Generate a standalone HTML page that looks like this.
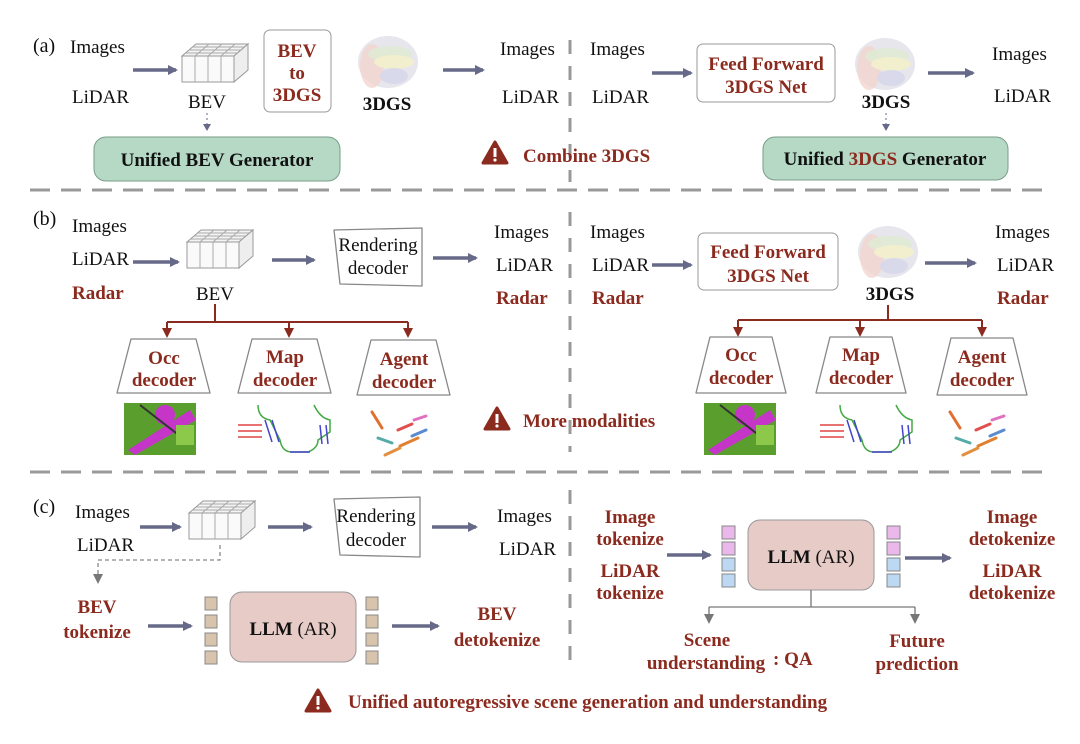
<!DOCTYPE html>
<html><head><meta charset="utf-8"><style>
html,body{margin:0;padding:0;background:#fff;}
svg{display:block;}
text{font-family:"Liberation Serif",serif;font-size:19px;fill:#111;}
.r{fill:#8b2a1e;font-weight:bold;}
.b{font-weight:bold;}
.m{text-anchor:middle;}
</style></head><body>
<svg width="1080" height="744" viewBox="0 0 1080 744" xmlns="http://www.w3.org/2000/svg">
<defs>
<marker id="ah" markerWidth="10" markerHeight="10" refX="8" refY="5" orient="auto" markerUnits="userSpaceOnUse"><path d="M0,0 L10,5 L0,10 z" fill="#666a88"/></marker>
<marker id="ahr" markerWidth="10" markerHeight="10" refX="8" refY="5" orient="auto" markerUnits="userSpaceOnUse"><path d="M0,0 L10,5 L0,10 z" fill="#8b2a1e"/></marker>
<marker id="ahg" markerWidth="10" markerHeight="10" refX="8" refY="5" orient="auto" markerUnits="userSpaceOnUse"><path d="M0,0 L10,5 L0,10 z" fill="#777"/></marker>
<g id="grid">
<path d="M0,12 L52,12 L52,38 L0,38 z" fill="#fafafa" stroke="#999"/>
<path d="M0,12 L14,0 L66,0 L52,12 z" fill="#f4f4f4" stroke="#999"/>
<path d="M52,12 L66,0 L66,26 L52,38 z" fill="#eee" stroke="#999"/>
<path d="M13,12 L13,38 M26,12 L26,38 M39,12 L39,38 M3.5,9 L55.5,9 M7,6 L59,6 M10.5,3 L62.5,3 M13,12 L27,0 M26,12 L40,0 M39,12 L53,0" stroke="#aaa" fill="none"/>
</g>
<g id="blob">
<ellipse cx="30" cy="28" rx="30" ry="26" fill="#e6e6ec"/>
<ellipse cx="14" cy="32" rx="12" ry="22" fill="#f2d6d0" opacity="0.8"/>
<ellipse cx="32" cy="20" rx="22" ry="8" fill="#dfead4" opacity="0.9"/>
<ellipse cx="36" cy="28" rx="20" ry="7" fill="#f3efcc" opacity="0.9"/>
<ellipse cx="36" cy="42" rx="14" ry="8" fill="#d4d7ec" opacity="0.8"/>
</g>
<g id="warn"><path d="M0,-11 L12,10 L-12,10 z" fill="#8b2a1e" stroke="#8b2a1e" stroke-width="3" stroke-linejoin="round"/><rect x="-1.5" y="-5" width="3" height="9" fill="#fff"/><circle cx="0" cy="7" r="1.6" fill="#fff"/></g>
</defs>

<g stroke="#999" stroke-width="3" stroke-dasharray="20,11" fill="none">
<line x1="30" y1="190" x2="1052" y2="190"/>
<line x1="30" y1="472" x2="1052" y2="472"/>
</g>
<g stroke="#999" stroke-width="3" stroke-dasharray="14,12" fill="none">
<line x1="570" y1="40" x2="570" y2="182"/>
<line x1="570" y1="212" x2="570" y2="452"/>
<line x1="570" y1="490" x2="570" y2="668"/>
</g>

<!-- (a) -->
<text x="33" y="52" style="font-size:20px">(a)</text>
<text x="70" y="53">Images</text>
<text x="72" y="103">LiDAR</text>
<line x1="133" y1="70" x2="176" y2="70" stroke="#666a88" stroke-width="3.5" marker-end="url(#ah)"/>
<use href="#grid" x="182" y="44"/>
<text x="207" y="108" class="m">BEV</text>
<line x1="207" y1="113" x2="207" y2="127" stroke="#666a88" stroke-dasharray="2,3"/><path d="M203,124 L211,124 L207,131 z" fill="#666a88"/>
<rect x="94" y="137" width="246" height="44" rx="12" fill="#b6d9c6" stroke="#7a9d8a"/>
<text x="217" y="166" class="m b">Unified BEV Generator</text>
<rect x="264" y="30" width="67" height="82" rx="6" fill="#fff" stroke="#999"/>
<text x="297" y="57" class="m r">BEV</text><text x="297" y="79" class="m r">to</text><text x="297" y="101" class="m r">3DGS</text>
<use href="#blob" x="358" y="34"/>
<text x="387" y="110" class="m b">3DGS</text>
<line x1="443" y1="70" x2="483" y2="70" stroke="#666a88" stroke-width="3.5" marker-end="url(#ah)"/>
<text x="500" y="55">Images</text>
<text x="502" y="103">LiDAR</text>
<use href="#warn" x="495" y="153"/>
<text x="523" y="162" class="r">Combine 3DGS</text>

<text x="590" y="55">Images</text>
<text x="592" y="103">LiDAR</text>
<line x1="652" y1="73" x2="691" y2="73" stroke="#666a88" stroke-width="3.5" marker-end="url(#ah)"/>
<rect x="697" y="44" width="138" height="58" rx="6" fill="#fff" stroke="#999"/>
<text x="766" y="70" class="m r">Feed Forward</text><text x="766" y="93" class="m r">3DGS Net</text>
<use href="#blob" x="855" y="36"/>
<text x="886" y="108" class="m b">3DGS</text>
<line x1="886" y1="113" x2="886" y2="127" stroke="#666a88" stroke-dasharray="2,3"/><path d="M882,124 L890,124 L886,131 z" fill="#666a88"/>
<line x1="928" y1="73" x2="973" y2="73" stroke="#666a88" stroke-width="3.5" marker-end="url(#ah)"/>
<text x="992" y="60">Images</text>
<text x="994" y="102">LiDAR</text>
<rect x="763" y="137" width="245" height="43" rx="12" fill="#b6d9c6" stroke="#7a9d8a"/>
<text x="885" y="165" class="m b">Unified <tspan fill="#8b2a1e">3DGS</tspan> Generator</text>

<!-- (b) -->
<text x="33" y="225" style="font-size:20px">(b)</text>
<text x="72" y="232">Images</text>
<text x="72" y="265">LiDAR</text>
<text x="72" y="299" class="r">Radar</text>
<line x1="133" y1="262" x2="178" y2="262" stroke="#666a88" stroke-width="3.5" marker-end="url(#ah)"/>
<use href="#grid" x="187" y="230"/>
<text x="215" y="300" class="m">BEV</text>
<line x1="272" y1="260" x2="314" y2="260" stroke="#666a88" stroke-width="3.5" marker-end="url(#ah)"/>
<path d="M334,230 L422,228 L422,286 L340,284 z" fill="#fff" stroke="#888" stroke-width="1.3" stroke-linejoin="round"/>
<text x="378" y="251" class="m">Rendering</text><text x="378" y="274" class="m">decoder</text>
<line x1="433" y1="258" x2="476" y2="258" stroke="#666a88" stroke-width="3.5" marker-end="url(#ah)"/>
<text x="494" y="238">Images</text>
<text x="496" y="271">LiDAR</text>
<text x="496" y="304" class="r">Radar</text>
<g stroke="#8b2a1e" stroke-width="2" fill="none">
<line x1="215" y1="304" x2="215" y2="322"/>
<line x1="167" y1="322" x2="408" y2="322"/>
<line x1="167" y1="322" x2="167" y2="336" marker-end="url(#ahr)"/>
<line x1="289" y1="322" x2="289" y2="336" marker-end="url(#ahr)"/>
<line x1="408" y1="322" x2="408" y2="336" marker-end="url(#ahr)"/>
</g>
<g fill="#fff" stroke="#888" stroke-width="1.3" stroke-linejoin="round">
<path d="M131,339 L196,339 L210,393 L117,393 z"/>
<path d="M252,339 L317,339 L331,393 L238,393 z"/>
<path d="M371,340 L436,340 L450,395 L357,395 z"/>
</g>
<text x="164" y="364" class="m r">Occ</text><text x="164" y="386" class="m r">decoder</text>
<text x="285" y="363" class="m r">Map</text><text x="285" y="386" class="m r">decoder</text>
<text x="404" y="365" class="m r">Agent</text><text x="404" y="388" class="m r">decoder</text>
<g id="occ">
<rect x="124" y="403" width="72" height="52" fill="#5a9e2e"/>
<path d="M128,450 L190,410 L196,420 L135,455 z" fill="#c535c8"/>
<circle cx="165" cy="415" r="10" fill="#c535c8"/>
<path d="M140,405 L185,440" stroke="#333" stroke-width="2"/>
<rect x="176" y="425" width="18" height="20" fill="#8cc84a"/>
</g>
<g id="map" fill="none" stroke-width="1.5">
<path d="M258,405 Q258,418 270,420 L280,440 Q282,452 292,452 L308,452 Q318,448 318,440 L330,432 L330,420 Q320,418 314,405" stroke="#4a4"/>
<path d="M265,420 L272,442 M272,420 L279,442 M290,452 L310,452 M320,425 L322,444 M326,425 L328,444" stroke="#44c"/>
<path d="M238,425 L262,425 M238,431 L262,431 M238,437 L262,437" stroke="#d44"/>
</g>
<g stroke-width="3" stroke-linecap="round">
<path d="M372,412 L382,428" stroke="#e07030"/><path d="M378,438 L392,443" stroke="#5aa"/>
<path d="M398,430 L412,424" stroke="#e05050"/><path d="M414,420 L426,416" stroke="#e070c0"/>
<path d="M400,446 L418,438" stroke="#e08030"/><path d="M412,436 L426,430" stroke="#5a8ad0"/>
<path d="M385,455 L400,448" stroke="#e09040"/>
</g>
<use href="#warn" x="497" y="419"/>
<text x="523" y="427" class="r">More modalities</text>

<text x="590" y="238">Images</text>
<text x="592" y="271">LiDAR</text>
<text x="592" y="304" class="r">Radar</text>
<line x1="652" y1="265" x2="691" y2="265" stroke="#666a88" stroke-width="3.5" marker-end="url(#ah)"/>
<rect x="698" y="233" width="140" height="57" rx="6" fill="#fff" stroke="#999"/>
<text x="768" y="258" class="m r">Feed Forward</text><text x="768" y="282" class="m r">3DGS Net</text>
<use href="#blob" x="858" y="224"/>
<text x="890" y="300" class="m b">3DGS</text>
<line x1="925" y1="263" x2="975" y2="263" stroke="#666a88" stroke-width="3.5" marker-end="url(#ah)"/>
<text x="995" y="238">Images</text>
<text x="997" y="271">LiDAR</text>
<text x="997" y="304" class="r">Radar</text>
<g stroke="#8b2a1e" stroke-width="2" fill="none">
<line x1="888" y1="305" x2="888" y2="320"/>
<line x1="738" y1="320" x2="982" y2="320"/>
<line x1="738" y1="320" x2="738" y2="335" marker-end="url(#ahr)"/>
<line x1="860" y1="320" x2="860" y2="335" marker-end="url(#ahr)"/>
<line x1="982" y1="320" x2="982" y2="335" marker-end="url(#ahr)"/>
</g>
<g fill="#fff" stroke="#888" stroke-width="1.3" stroke-linejoin="round">
<path d="M710,337 L772,337 L786,393 L696,393 z"/>
<path d="M830,337 L892,337 L906,393 L816,393 z"/>
<path d="M951,338 L1013,338 L1027,395 L937,395 z"/>
</g>
<text x="741" y="361" class="m r">Occ</text><text x="741" y="384" class="m r">decoder</text>
<text x="861" y="361" class="m r">Map</text><text x="861" y="384" class="m r">decoder</text>
<text x="982" y="363" class="m r">Agent</text><text x="982" y="386" class="m r">decoder</text>
<use href="#occ" x="580" y="0"/>
<use href="#map" x="582" y="0"/>
<g stroke-width="3" stroke-linecap="round" transform="translate(578,0)">
<path d="M372,412 L382,428" stroke="#e07030"/><path d="M378,438 L392,443" stroke="#5aa"/>
<path d="M398,430 L412,424" stroke="#e05050"/><path d="M414,420 L426,416" stroke="#e070c0"/>
<path d="M400,446 L418,438" stroke="#e08030"/><path d="M412,436 L426,430" stroke="#5a8ad0"/>
<path d="M385,455 L400,448" stroke="#e09040"/>
</g>

<!-- (c) -->
<text x="33" y="513" style="font-size:20px">(c)</text>
<text x="75" y="518">Images</text>
<text x="77" y="551">LiDAR</text>
<line x1="140" y1="527" x2="180" y2="527" stroke="#666a88" stroke-width="3.5" marker-end="url(#ah)"/>
<use href="#grid" x="189" y="501"/>
<line x1="268" y1="527" x2="311" y2="527" stroke="#666a88" stroke-width="3.5" marker-end="url(#ah)"/>
<path d="M334,499 L420,497 L420,557 L340,555 z" fill="#fff" stroke="#888" stroke-width="1.3" stroke-linejoin="round"/>
<text x="376" y="522" class="m">Rendering</text><text x="376" y="546" class="m">decoder</text>
<line x1="432" y1="527" x2="476" y2="527" stroke="#666a88" stroke-width="3.5" marker-end="url(#ah)"/>
<text x="497" y="522">Images</text>
<text x="499" y="555">LiDAR</text>
<path d="M220,545 L220,560 L98,560 L98,582" stroke="#888" stroke-width="1.3" stroke-dasharray="4,3" fill="none" marker-end="url(#ahg)"/>
<text x="97" y="613" class="m r">BEV</text><text x="97" y="638" class="m r">tokenize</text>
<line x1="148" y1="626" x2="191" y2="626" stroke="#666a88" stroke-width="3.5" marker-end="url(#ah)"/>
<g fill="#d8c4ad" stroke="#888"><rect x="205" y="597" width="12" height="13"/><rect x="205" y="615" width="12" height="13"/><rect x="205" y="633" width="12" height="13"/><rect x="205" y="651" width="12" height="13"/>
<rect x="366" y="597" width="12" height="13"/><rect x="366" y="615" width="12" height="13"/><rect x="366" y="633" width="12" height="13"/><rect x="366" y="651" width="12" height="13"/></g>
<rect x="230" y="592" width="126" height="70" rx="12" fill="#e6cbc7" stroke="#999"/>
<text x="293" y="635" class="m b">LLM <tspan font-weight="normal">(AR)</tspan></text>
<line x1="392" y1="626" x2="438" y2="626" stroke="#666a88" stroke-width="3.5" marker-end="url(#ah)"/>
<text x="497" y="620" class="m r">BEV</text><text x="497" y="646" class="m r">detokenize</text>

<text x="630" y="523" class="m r">Image</text><text x="630" y="545" class="m r">tokenize</text>
<text x="630" y="577" class="m r">LiDAR</text><text x="630" y="599" class="m r">tokenize</text>
<line x1="667" y1="555" x2="710" y2="555" stroke="#666a88" stroke-width="3.5" marker-end="url(#ah)"/>
<g stroke="#888"><rect x="722" y="526" width="13" height="13" fill="#eab8ea"/><rect x="722" y="542" width="13" height="13" fill="#eab8ea"/><rect x="722" y="558" width="13" height="13" fill="#bcd8f2"/><rect x="722" y="574" width="13" height="13" fill="#bcd8f2"/>
<rect x="887" y="526" width="13" height="13" fill="#eab8ea"/><rect x="887" y="542" width="13" height="13" fill="#eab8ea"/><rect x="887" y="558" width="13" height="13" fill="#bcd8f2"/><rect x="887" y="574" width="13" height="13" fill="#bcd8f2"/></g>
<rect x="748" y="520" width="126" height="70" rx="12" fill="#e6cbc7" stroke="#999"/>
<text x="811" y="563" class="m b">LLM <tspan font-weight="normal">(AR)</tspan></text>
<line x1="905" y1="558" x2="950" y2="558" stroke="#666a88" stroke-width="3.5" marker-end="url(#ah)"/>
<text x="1012" y="523" class="m r">Image</text><text x="1012" y="545" class="m r">detokenize</text>
<text x="1012" y="577" class="m r">LiDAR</text><text x="1012" y="599" class="m r">detokenize</text>
<g stroke="#777" stroke-width="1.3" fill="none">
<line x1="811" y1="590" x2="811" y2="607"/>
<line x1="709" y1="607" x2="915" y2="607"/>
<line x1="709" y1="607" x2="709" y2="622" marker-end="url(#ahg)"/>
<line x1="915" y1="607" x2="915" y2="622" marker-end="url(#ahg)"/>
</g>
<text x="707" y="646" class="m r">Scene</text>
<text x="706" y="669" class="m r">understanding</text>
<text x="773" y="665" class="r">: QA</text>
<text x="917" y="647" class="m r">Future</text><text x="917" y="670" class="m r">prediction</text>

<use href="#warn" x="318" y="701"/>
<text x="348" y="708" class="r">Unified autoregressive scene generation and understanding</text>
</svg>
</body></html>
